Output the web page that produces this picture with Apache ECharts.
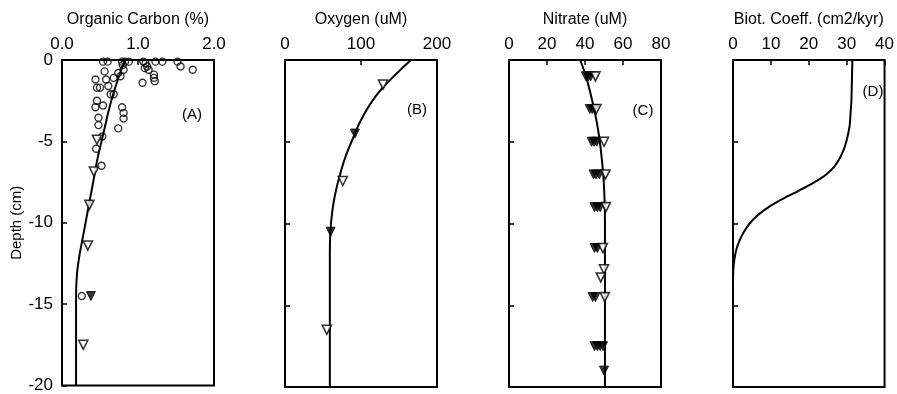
<!DOCTYPE html>
<html>
<head>
<meta charset="utf-8">
<script src="https://cdn.jsdelivr.net/npm/echarts/dist/echarts.min.js"></script>
<style>
  html, body { margin: 0; padding: 0; background: #fff; }
  #chart { width: 897px; height: 394px; }
</style>
</head>
<body>
<div id="chart"></div>
<script>
// ---- sediment profile data: [value, depth in cm] ----

// (A) Organic carbon, %
const orgCarbonCircles = [
  [0.54,-0.1],[0.60,-0.1],[0.79,-0.1],[0.83,-0.1],[0.88,-0.1],[1.07,-0.1],[1.10,-0.2],[1.12,-0.4],
  [1.14,-0.6],[1.09,-0.5],[1.23,-0.1],[1.32,-0.1],[1.52,-0.1],[1.56,-0.4],[1.72,-0.6],
  [0.56,-0.7],[0.74,-0.8],[0.81,-0.6],[0.80,-0.3],[1.21,-0.9],[1.21,-1.1],[1.22,-1.3],[1.06,-1.4],
  [0.44,-1.2],[0.58,-1.2],[0.68,-1.1],[0.77,-1.0],[0.46,-1.7],[0.50,-1.7],[0.61,-1.6],
  [0.64,-2.1],[0.68,-2.1],[0.46,-2.5],[0.44,-2.9],[0.54,-2.8],[0.79,-2.9],[0.81,-3.25],
  [0.48,-3.55],[0.81,-3.6],[0.48,-4.0],[0.74,-4.2],[0.53,-4.7],[0.45,-5.45],[0.52,-6.5],
  [0.26,-14.5]
];
const orgCarbonOpenTri = [[0.46,-4.9],[0.42,-6.85],[0.36,-8.9],[0.34,-11.4],[0.28,-17.5]];
const orgCarbonFilledTri = [[0.38,-14.5]];
const orgCarbonFit = [
  [0.83,0],[0.75,-1],[0.68,-2],[0.62,-3],[0.57,-4],[0.52,-5],[0.47,-6],[0.43,-7],[0.39,-8],
  [0.35,-9],[0.31,-10],[0.27,-11],[0.23,-12],[0.20,-13],[0.187,-14],[0.185,-15],[0.185,-20]
];

// (B) Oxygen, uM
const oxygenOpenTri = [[129,-1.5],[76,-7.4],[55,-16.5]];
const oxygenFilledTri = [[92,-4.5],[60,-10.5]];
const oxygenFit = [
  [166,0],[154,-0.5],[143,-1],[132.5,-1.5],[123,-2],[115,-2.5],[108,-3],[102,-3.5],[96.5,-4],
  [92,-4.5],[87.5,-5],[83,-5.5],[79,-6],[75.5,-6.5],[72.5,-7],[69.5,-7.5],[67,-8],[64.8,-8.5],
  [63,-9],[61.6,-9.5],[60.5,-10],[59.8,-10.5],[59.3,-11],[59.05,-11.5],[59,-12],[59,-20]
];

// (C) Nitrate, uM
const nitrateFilledTri = [
  [40.5,-1],[41.8,-1],[43,-1],
  [42.5,-3],[43.8,-3],[45,-3],
  [43.5,-5],[44.8,-5],[46.2,-5],
  [44.5,-7],[45.8,-7],[47.5,-7],
  [45,-9],[46.5,-9],[48,-9],
  [45,-11.5],[46.5,-11.5],
  [44,-14.5],[45.5,-14.5],
  [45,-17.5],[46.5,-17.5],[48,-17.5],[49.5,-17.5],
  [50,-19]
];
const nitrateOpenTri = [
  [45.5,-1],[46,-3],[50,-5],[50.8,-7],[51,-9],[49.4,-11.5],[50,-12.8],[48.3,-13.3],[50.4,-14.5]
];
const nitrateFit = [
  [37.5,0],[40.5,-1],[42.8,-2],[44.8,-3],[46.5,-4],[47.8,-5],[48.8,-6],[49.6,-7],[50.1,-8],
  [50.4,-9],[50.5,-10],[50.5,-20]
];

// (D) Bioturbation coefficient, cm2/kyr
const biotFit = [
  [31.5,0],[31.25,-2.5],[31.1,-3],[30.8,-4],[30.4,-4.5],[29.9,-5],[29.2,-5.5],[28.2,-6],
  [26.8,-6.5],[24.6,-7],[21.3,-7.5],[17.3,-8],[13.1,-8.5],[9.4,-9],[6.5,-9.5],[4.4,-10],
  [2.9,-10.5],[1.8,-11],[1.0,-11.5],[0.5,-12],[0.2,-12.5],[0.05,-13],[0,-14],[0,-20]
];

// axis settings per panel: title, min, max, interval, decimals
const panelTitles = ['Organic Carbon (%)', 'Oxygen (uM)', 'Nitrate (uM)', 'Biot. Coeff. (cm2/kyr)'];
const panelTags = ['(A)', '(B)', '(C)', '(D)'];
const xRanges = [[0, 2, 1, 1], [0, 200, 100, 0], [0, 80, 20, 0], [0, 40, 10, 0]];
const depthRange = [-20, 0, 5];

const FONT = 'Liberation Sans, Arial, Helvetica, sans-serif';
const gridLefts = [62, 285, 509, 733];
const gridTagPos = [[192, 115], [417, 110], [643, 111], [873, 92]];

const grids = gridLefts.map(l => ({
  left: l, top: 60, width: 152, height: 327,
  show: true, borderColor: '#000', borderWidth: 2, backgroundColor: 'transparent'
}));

const xAxes = xRanges.map((r, i) => ({
  type: 'value', gridIndex: i, position: 'top',
  min: r[0], max: r[1], interval: r[2],
  name: panelTitles[i], nameLocation: 'middle', nameGap: 32,
  nameTextStyle: { fontSize: 16, color: '#000', fontFamily: FONT },
  axisLine: { show: false },
  axisTick: { show: true, inside: true, length: 5, lineStyle: { color: '#000', width: 1.5 } },
  splitLine: { show: false },
  axisLabel: {
    fontSize: 17, color: '#000', fontFamily: FONT, margin: 7,
    showMinLabel: true, showMaxLabel: true,
    formatter: v => v.toFixed(r[3])
  }
}));

const yAxes = [0, 1, 2, 3].map(i => ({
  type: 'value', gridIndex: i,
  min: depthRange[0], max: depthRange[1], interval: depthRange[2],
  name: i === 0 ? 'Depth (cm)' : '', nameLocation: 'middle', nameGap: 38,
  nameTextStyle: { fontSize: 15, color: '#000', fontFamily: FONT },
  axisLine: { show: false },
  axisTick: { show: true, inside: true, length: 5, lineStyle: { color: '#000', width: 1.5 } },
  splitLine: { show: false },
  axisLabel: { show: i === 0, fontSize: 17, color: '#000', fontFamily: FONT, margin: 9 }
}));

function fitLine(i, data) {
  return {
    type: 'line', xAxisIndex: i, yAxisIndex: i, data: data,
    showSymbol: false, smooth: 0.3, silent: true,
    lineStyle: { color: '#000', width: 2 }, z: 3
  };
}
function triangles(i, data, filled) {
  return {
    type: 'scatter', xAxisIndex: i, yAxisIndex: i, data: data,
    symbol: 'triangle', symbolRotate: 180, symbolSize: 9, clip: false,
    itemStyle: filled
      ? { color: '#000', borderColor: '#000', borderWidth: 1 }
      : { color: '#fff', borderColor: '#000', borderWidth: 1.6 },
    z: 4
  };
}

const series = [
  fitLine(0, orgCarbonFit),
  {
    type: 'scatter', xAxisIndex: 0, yAxisIndex: 0, data: orgCarbonCircles,
    symbol: 'circle', symbolSize: 7, clip: false,
    itemStyle: { color: 'rgba(255,255,255,0)', borderColor: '#000', borderWidth: 1.4 }, z: 4
  },
  triangles(0, orgCarbonOpenTri, false),
  triangles(0, orgCarbonFilledTri, true),
  fitLine(1, oxygenFit),
  triangles(1, oxygenOpenTri, false),
  triangles(1, oxygenFilledTri, true),
  fitLine(2, nitrateFit),
  triangles(2, nitrateFilledTri, true),
  triangles(2, nitrateOpenTri, false),
  fitLine(3, biotFit)
];

const graphic = panelTags.map((t, i) => ({
  type: 'text', x: gridTagPos[i][0], y: gridTagPos[i][1],
  style: { text: t, fill: '#000', font: '15px ' + FONT, align: 'center', verticalAlign: 'middle' }
}));

const chart = echarts.init(document.getElementById('chart'), null, { renderer: 'canvas' });
chart.setOption({
  animation: false,
  backgroundColor: '#fff',
  grid: grids,
  xAxis: xAxes,
  yAxis: yAxes,
  series: series,
  graphic: graphic
});
</script>
</body>
</html>
